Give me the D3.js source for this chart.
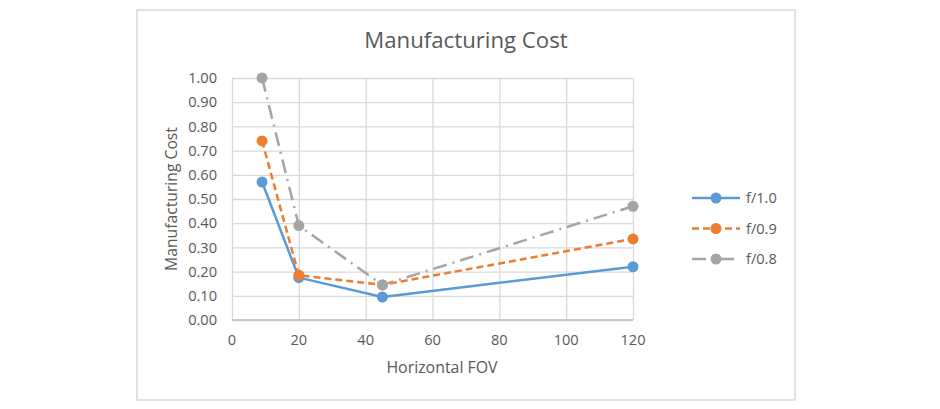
<!DOCTYPE html>
<html>
<head>
<meta charset="utf-8">
<script src="https://cdn.jsdelivr.net/npm/d3@7"></script>
<style>
  body { margin: 0; background: #fff; }
  text { font-family: "Open Sans", sans-serif; fill: #595959; }
</style>
</head>
<body>
<svg id="chart" width="940" height="409"></svg>
<script>
// data
const fov       = [9, 20, 45, 120];
const seriesNames = ['f/1.0', 'f/0.9', 'f/0.8'];
const cost_f10  = [0.57, 0.175, 0.095, 0.22];
const cost_f09  = [0.74, 0.185, 0.145, 0.335];
const cost_f08  = [1.00, 0.39, 0.145, 0.47];
const xTicks    = [0, 20, 40, 60, 80, 100, 120];
const yTicks    = [0, 0.1, 0.2, 0.3, 0.4, 0.5, 0.6, 0.7, 0.8, 0.9, 1.0];

const option =
  {
    frame: { x: 137, y: 10, width: 658, height: 390 },
    plot:  { left: 232, right: 633, top: 78, bottom: 320 },
    colors: ['#5b9bd5', '#ed7d31', '#a5a5a5'],
    dashes: [null, '7,4', '14,6,2,6'],
    legend: { x: 692, y: 198, dy: 30.5, len: 48 }
  };

const series = [cost_f10, cost_f09, cost_f08].map((v, i) => (
  {
    name: seriesNames[i],
    color: option.colors[i],
    dash: option.dashes[i],
    points: v.map((c, j) => ({ x: fov[j], y: c }))
  }));

const svg = d3.select('#chart');

// chart frame
svg.append('rect')
  .attr('x', option.frame.x)
  .attr('y', option.frame.y)
  .attr('width', option.frame.width)
  .attr('height', option.frame.height)
  .attr('fill', '#fff')
  .attr('stroke', '#d9d9d9')
  .attr('stroke-width', 1.5)
;

const x = d3.scaleLinear().domain([0, 120]).range([option.plot.left, option.plot.right]);
const y = d3.scaleLinear().domain([0, 1]).range([option.plot.bottom, option.plot.top]);

// grid
svg.append('g')
  .attr('transform', `translate( 0 ${ option.plot.bottom } )`)
  .call(d3.axisBottom(x).tickValues(xTicks).tickSize(-(option.plot.bottom - option.plot.top)).tickFormat(''))
  .call(g => g.select('.domain').remove())
  .call(g => g.selectAll('line').attr('stroke', '#d9d9d9').attr('stroke-width', 1.3))
;

svg.append('g')
  .attr('transform', `translate( ${ option.plot.left } 0 )`)
  .call(d3.axisLeft(y).tickValues(yTicks).tickSize(-(option.plot.right - option.plot.left)).tickFormat(''))
  .call(g => g.select('.domain').remove())
  .call(g => g.selectAll('line').attr('stroke', '#d9d9d9').attr('stroke-width', 1.3))
;

// bottom axis line
svg.append('line')
  .attr('x1', option.plot.left)
  .attr('x2', option.plot.right)
  .attr('y1', y(0))
  .attr('y2', y(0))
  .attr('stroke', '#bfbfbf')
  .attr('stroke-width', 1.3)
;

// tick labels
svg.append('g')
  .selectAll('text')
  .data(xTicks)
  .join('text')
  .attr('x', d => x(d))
  .attr('y', 345)
  .attr('text-anchor', 'middle')
  .attr('font-size', 14.6)
  .text(d => d)
;

svg.append('g')
  .selectAll('text')
  .data(yTicks)
  .join('text')
  .attr('x', 217)
  .attr('y', d => y(d))
  .attr('dy', '0.35em')
  .attr('text-anchor', 'end')
  .attr('font-size', 14.6)
  .text(d => d3.format('.2f')(d))
;

// titles
svg.append('text')
  .attr('x', 466)
  .attr('y', 48)
  .attr('text-anchor', 'middle')
  .attr('font-size', 22.2)
  .text('Manufacturing Cost')
;

svg.append('text')
  .attr('x', 442)
  .attr('y', 373)
  .attr('text-anchor', 'middle')
  .attr('font-size', 15.9)
  .text('Horizontal FOV')
;

svg.append('text')
  .attr('transform', `translate( 177 ${ (option.plot.top + option.plot.bottom) / 2 } ) rotate(-90)`)
  .attr('text-anchor', 'middle')
  .attr('font-size', 15.7)
  .text('Manufacturing Cost')
;

// series
const line = d3.line().x(d => x(d.x)).y(d => y(d.y));

const g_series = svg.append('g')
  .selectAll('g')
  .data(series)
  .join('g')
;

g_series.append('path')
  .attr('d', d => line(d.points))
  .attr('fill', 'none')
  .attr('stroke', d => d.color)
  .attr('stroke-width', 2.5)
  .attr('stroke-dasharray', d => d.dash)
  .attr('stroke-linejoin', 'round')
;

g_series.selectAll('circle')
  .data(d => d.points.map(p => ({ ...p, color: d.color })))
  .join('circle')
  .attr('cx', d => x(d.x))
  .attr('cy', d => y(d.y))
  .attr('r', 5.5)
  .attr('fill', d => d.color)
;

// legend
const g_legend = svg.append('g')
  .selectAll('g')
  .data(series)
  .join('g')
  .attr('transform', (d, i) => `translate( ${ option.legend.x } ${ option.legend.y + i * option.legend.dy } )`)
;

g_legend.append('line')
  .attr('x1', 0)
  .attr('x2', option.legend.len)
  .attr('stroke', d => d.color)
  .attr('stroke-width', 2.5)
  .attr('stroke-dasharray', d => d.dash)
;

g_legend.append('circle')
  .attr('cx', option.legend.len / 2)
  .attr('r', 5.5)
  .attr('fill', d => d.color)
;

g_legend.append('text')
  .attr('x', option.legend.len + 6)
  .attr('dy', '0.35em')
  .attr('font-size', 14.6)
  .text(d => d.name)
;
</script>
</body>
</html>
